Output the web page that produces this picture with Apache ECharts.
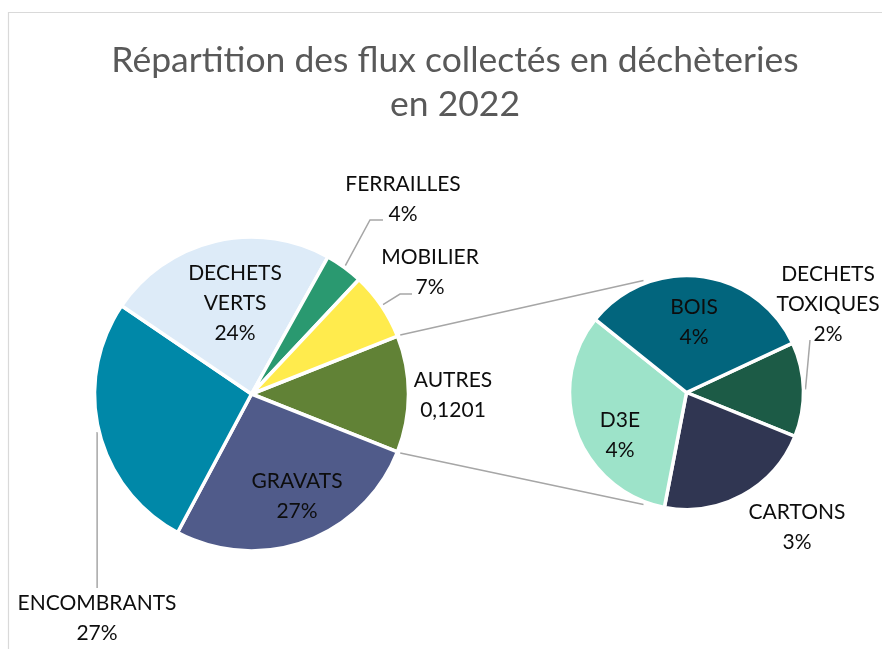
<!DOCTYPE html>
<html>
<head>
<meta charset="utf-8">
<script src="https://cdn.jsdelivr.net/npm/echarts@6/dist/echarts.min.js"></script>
<style>html,body{margin:0;padding:0;background:#fff}#chart{width:882px;height:649px}</style>
</head>
<body>
<div id="chart"></div>
<script>
// ---- DATA (percent of total tonnage) ----
const mainNames  = ['AUTRES', 'GRAVATS', 'ENCOMBRANTS', 'DECHETS VERTS', 'FERRAILLES', 'MOBILIER'];
const mainValues = [12.01, 26.8, 26.7, 23.6, 3.9, 7.0];
const subNames   = ['DECHETS TOXIQUES', 'CARTONS', 'D3E', 'BOIS'];
const subValues  = [1.57, 2.63, 3.93, 3.88];
const titleText  = 'Répartition des flux collectés en déchèteries\nen 2022';

// ---- STYLE / LAYOUT ----
const mainColors = ['#618236', '#505B8A', '#0088A8', '#DDEBF8', '#2A9970', '#FFEB4D'];
const subColors  = ['#1C5B46', '#303652', '#9DE3C9', '#02657D'];
const C1 = [251.5, 394], R1 = 157;
const C2 = [686.5, 392.5], R2 = 117;
const SUB_START = 25;
const FONT = 'Lato';
const LINE_COLOR = '#A6A6A6';
// label block centers relative to pie center, and leader-line tail points relative to label center
const mainLabelPos = {
  'AUTRES': {o: [201.5, 1]},
  'GRAVATS': {o: [45.5, 102]},
  'ENCOMBRANTS': {o: [-154.5, 224], line: [[null, -30]]},
  'DECHETS VERTS': {o: [-16.5, -91]},
  'FERRAILLES': {o: [151.5, -195], line: [[-33, 21], [-20, 21]]},
  'MOBILIER': {o: [178.5, -122], line: [[-30, 22], [-18, 22]]}
};
const subLabelPos = {
  'DECHETS TOXIQUES': {o: [141.5, -88.5], line: [[-18, 36]]},
  'CARTONS': {o: [110.5, 134.5]},
  'D3E': {o: [-66.5, 42.5]},
  'BOIS': {o: [7.5, -70.5]}
};

function midAngles(values, start) {
  const tot = values.reduce((a, b) => a + b, 0);
  let a = start; const res = [];
  values.forEach(v => { const span = v / tot * 360; res.push(a - span / 2); a -= span; });
  return res;
}
const mainStart = mainValues[0] / mainValues.reduce((a, b) => a + b, 0) * 360 / 2;
const mainMid = midAngles(mainValues, mainStart);
const subMid = midAngles(subValues, SUB_START);

function polar(c, r, deg) {
  const t = deg * Math.PI / 180;
  return [c[0] + r * Math.cos(t), c[1] - r * Math.sin(t)];
}
function fmt(p) {
  const name = p.name.replace(' ', '\n');
  const v = p.name === 'AUTRES' ? (p.value / 100).toFixed(4).replace('.', ',') : Math.round(p.value) + '%';
  return name + '\n' + v;
}
function makeLayout(names, mids, posMap, c, r) {
  return function (params) {
    const name = names[params.dataIndex];
    const L = posMap[name];
    const x = c[0] + L.o[0], y = c[1] + L.o[1];
    const out = {x: x, y: y, align: 'center', verticalAlign: 'middle', hideOverlap: false, moveOverlap: null};
    if (L.line) {
      const s = polar(c, r + 2, mids[params.dataIndex]);
      const pts = [s];
      L.line.forEach(q => pts.push([q[0] == null ? s[0] : x + q[0], y + q[1]]));
      if (pts.length === 2) pts.splice(1, 0, pts[0].slice());
      out.labelLinePoints = pts;
    }
    return out;
  };
}
function buildData(names, values, colors, posMap) {
  return names.map((n, i) => ({
    name: n, value: values[i],
    itemStyle: {color: colors[i]},
    label: {position: posMap[n].line ? 'outside' : 'inside'},
    labelLine: {show: !!posMap[n].line}
  }));
}

// connector lines between pies
const half = mainStart;
const pTop1 = polar(C1, R1 + 3, half), pBot1 = polar(C1, R1 + 3, -half);
const pTop2 = polar(C2, R2 + 3, 111), pBot2 = polar(C2, R2 + 3, -111);

const labelStyle = {
  formatter: fmt, color: '#0D0D0D', fontFamily: FONT, fontSize: 21, lineHeight: 30
};
const chart = echarts.init(document.getElementById('chart'), null, {renderer: 'canvas'});
chart.setOption({
  animation: false,
  backgroundColor: '#fff',
  title: {
    text: titleText, left: 450, top: 34, textAlign: 'center',
    textStyle: {fontFamily: FONT, fontWeight: 'normal', fontSize: 35.5, color: '#595959', lineHeight: 44}
  },
  graphic: [
    {type: 'rect', shape: {x: 8.5, y: 12.5, width: 1000, height: 1000}, style: {fill: 'none', stroke: '#D9D9D9', lineWidth: 1.2}, z: -10},
    {type: 'line', shape: {x1: pTop1[0], y1: pTop1[1], x2: pTop2[0], y2: pTop2[1]}, style: {stroke: LINE_COLOR, lineWidth: 1.5}},
    {type: 'line', shape: {x1: pBot1[0], y1: pBot1[1], x2: pBot2[0], y2: pBot2[1]}, style: {stroke: LINE_COLOR, lineWidth: 1.5}}
  ],
  series: [
    {
      type: 'pie', center: C1, radius: R1, startAngle: mainStart, clockwise: true,
      avoidLabelOverlap: false, silent: true,
      itemStyle: {borderColor: '#fff', borderWidth: 3.5},
      label: labelStyle,
      labelLine: {lineStyle: {color: LINE_COLOR, width: 1.5}},
      labelLayout: makeLayout(mainNames, mainMid, mainLabelPos, C1, R1),
      data: buildData(mainNames, mainValues, mainColors, mainLabelPos)
    },
    {
      type: 'pie', center: C2, radius: R2, startAngle: SUB_START, clockwise: true,
      avoidLabelOverlap: false, silent: true,
      itemStyle: {borderColor: '#fff', borderWidth: 3.5},
      label: labelStyle,
      labelLine: {lineStyle: {color: LINE_COLOR, width: 1.5}},
      labelLayout: makeLayout(subNames, subMid, subLabelPos, C2, R2),
      data: buildData(subNames, subValues, subColors, subLabelPos)
    }
  ]
});
</script>
</body>
</html>
